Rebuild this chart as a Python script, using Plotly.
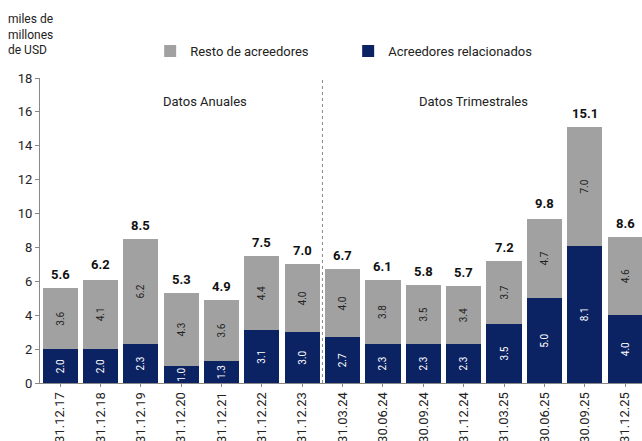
import plotly.graph_objects as go

FECHAS = ['31.12.17', '31.12.18', '31.12.19', '31.12.20', '31.12.21', '31.12.22',
          '31.12.23', '31.03.24', '30.06.24', '30.09.24', '31.12.24', '31.03.25',
          '30.06.25', '30.09.25', '31.12.25']
RELACIONADOS = [2.0, 2.0, 2.3, 1.0, 1.3, 3.1, 3.0, 2.7, 2.3, 2.3, 2.3, 3.5, 5.0, 8.1, 4.0]
RESTO = [3.6, 4.1, 6.2, 4.3, 3.6, 4.4, 4.0, 4.0, 3.8, 3.5, 3.4, 3.7, 4.7, 7.0, 4.6]
TOTAL = [5.6, 6.2, 8.5, 5.3, 4.9, 7.5, 7.0, 6.7, 6.1, 5.8, 5.7, 7.2, 9.8, 15.1, 8.6]

NAVY = '#0b2263'
GRAY = '#a1a1a1'
FONT = 'Roboto, Arial, sans-serif'

x = list(range(len(FECHAS)))

fig = go.Figure()
fig.add_trace(go.Bar(
    name='Acreedores relacionados',
    x=x, y=RELACIONADOS,
    marker=dict(color=NAVY, line=dict(width=0)),
    text=[f'{v:.1f}' for v in RELACIONADOS],
    textposition='inside', textangle=-90, insidetextanchor='middle',
    constraintext='none',
    textfont=dict(size=10, color='white'),
    hoverinfo='skip',
))
fig.add_trace(go.Bar(
    name='Resto de acreedores',
    x=x, y=RESTO,
    marker=dict(color=GRAY, line=dict(width=0)),
    text=[f'{v:.1f}' for v in RESTO],
    textposition='inside', textangle=-90, insidetextanchor='middle',
    constraintext='none',
    textfont=dict(size=10, color='#222222'),
    hoverinfo='skip',
))

# totals above each bar
for xi, tot in zip(x, TOTAL):
    fig.add_annotation(x=xi, y=tot, xref='x', yref='y', yanchor='bottom', yshift=4,
                       text=f'<b>{tot:.1f}</b>', showarrow=False,
                       font=dict(size=13, color='#111111'))

fig.add_shape(type='line', x0=6.5, x1=6.5, y0=0, y1=17.9, xref='x', yref='y',
              line=dict(color='#888888', width=1, dash='dot'))

fig.add_annotation(x=3.6, y=16.6, xref='x', yref='y', text='Datos Anuales',
                   showarrow=False, font=dict(size=13, color='#222222'))
fig.add_annotation(x=10.25, y=16.6, xref='x', yref='y', text='Datos Trimestrales',
                   showarrow=False, font=dict(size=13, color='#222222'))
fig.add_annotation(x=0, y=1, xref='paper', yref='paper', xanchor='left', yanchor='top',
                   xshift=-34, yshift=68, align='left',
                   text='miles de<br>millones<br>de USD', showarrow=False,
                   font=dict(size=12, color='#222222'))

fig.update_layout(
    width=642, height=441,
    margin=dict(l=40, r=0, t=78, b=58),
    barmode='stack', bargap=0.13,
    plot_bgcolor='white', paper_bgcolor='white',
    font=dict(family=FONT, size=13, color='#222222'),
    legend=dict(orientation='h', traceorder='reversed', x=0.183, y=0.884,
                xanchor='left', yanchor='middle', yref='container',
                font=dict(size=13), entrywidth=153, itemwidth=30),
    showlegend=True,
)
fig.update_xaxes(
    tickmode='array', tickvals=x, ticktext=FECHAS, tickangle=-90,
    range=[-0.5, 14.42], showline=True, linecolor='#888888', linewidth=1,
    ticks='outside', tickson='boundaries', ticklen=3, tickcolor='#888888',
    showgrid=False, automargin=False, tickfont=dict(size=13, color='#222222'),
)
fig.update_yaxes(
    range=[0, 18], dtick=2, showline=True, linecolor='#888888', linewidth=1,
    ticks='outside', ticklen=4, tickcolor='#888888', showgrid=False,
    zeroline=False, automargin=False, tickfont=dict(size=13, color='#222222'),
)

# page without the default body margin, so the figure fills the window
fig.write_html('out.html', config={'displayModeBar': False},
               post_script="document.body.style.margin='0';"
                           "document.body.style.overflow='hidden';")
